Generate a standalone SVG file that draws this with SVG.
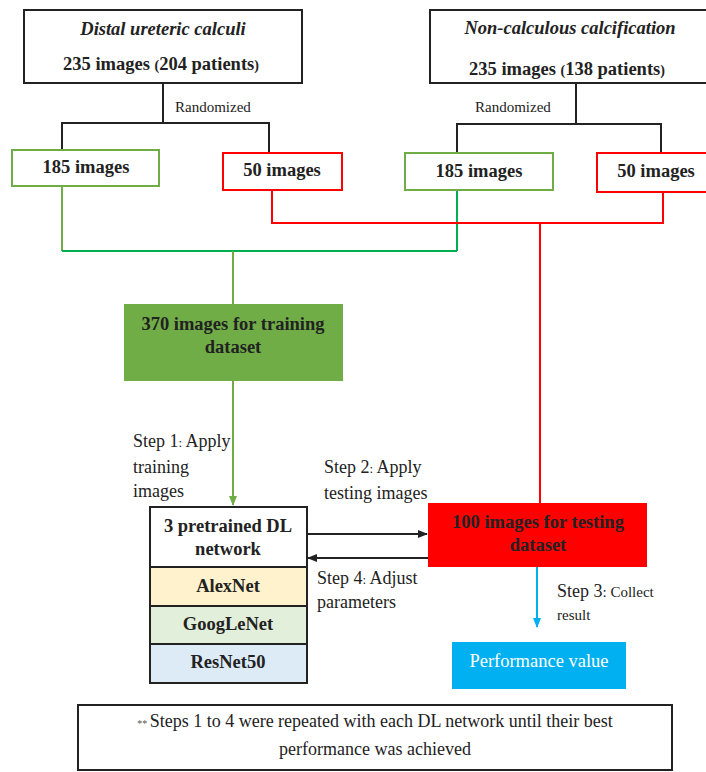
<svg xmlns="http://www.w3.org/2000/svg" width="706" height="772" viewBox="0 0 706 772" font-family="'Liberation Serif', 'DejaVu Serif', serif">
<style>
text{font-family:'Liberation Serif','DejaVu Serif',serif}
.b{font-weight:bold;font-size:18.5px;fill:#222;text-anchor:middle}
.bi{font-weight:bold;font-style:italic;font-size:18.5px;fill:#222;text-anchor:middle}
.r{font-size:18px;fill:#222}
.sm{font-size:13px}
.k{fill:none;stroke:#222;stroke-width:2}
.g{fill:none;stroke:#70AD47;stroke-width:2}
.gg{fill:none;stroke:#00B050;stroke-width:2}
.rd{fill:none;stroke:#FF0000;stroke-width:2}
</style>
<defs>
<marker id="ak" markerWidth="10" markerHeight="10" refX="9" refY="5" orient="auto" markerUnits="userSpaceOnUse"><path d="M0,1 L10,5 L0,9 z" fill="#222"/></marker>
<marker id="ag" markerWidth="10" markerHeight="10" refX="9" refY="5" orient="auto" markerUnits="userSpaceOnUse"><path d="M0,1 L10,5 L0,9 z" fill="#70AD47"/></marker>
<marker id="ab" markerWidth="10" markerHeight="10" refX="9" refY="5" orient="auto" markerUnits="userSpaceOnUse"><path d="M0,1 L10,5 L0,9 z" fill="#00B0F0"/></marker>
</defs>
<rect width="706" height="772" fill="#fff"/>
<g id="connectors">
<path class="k" d="M163,83 V123 M62,123 H269 M62,122 V150 M269,122 V153"/>
<path class="k" d="M576,83 V124 M457,124 H661 M457,123 V153 M661,123 V153"/>
<path class="g" d="M62,186 V251"/>
<path class="gg" d="M62,251 H457 M457,190 V251"/>
<path class="g" d="M233,251 V304"/>
<path class="rd" d="M272,190 V223 H663 V192 M540,223 V503"/>
<path class="g" d="M233,381 V505" marker-end="url(#ag)"/>
<path fill="none" stroke="#222" stroke-width="2" d="M307,534 H427" marker-end="url(#ak)"/>
<path fill="none" stroke="#222" stroke-width="2" d="M428,558 H308" marker-end="url(#ak)"/>
<path fill="none" stroke="#00B0F0" stroke-width="2" d="M537,567 V627" marker-end="url(#ab)"/>
</g>
<g id="n-distal">
<rect x="24" y="10" width="278" height="73" fill="#fff" stroke="#222" stroke-width="2"/>
<text class="bi" x="163" y="35">Distal ureteric calculi</text>
<text class="b" x="161" y="70">235 images <tspan style="font-size:14px">(</tspan>204 patients<tspan style="font-size:14px">)</tspan></text>
</g>
<g id="n-noncalc">
<rect x="430" y="10" width="280" height="73" fill="#fff" stroke="#222" stroke-width="2"/>
<text class="bi" x="570" y="34">Non-calculous calcification</text>
<text class="b" x="567" y="75">235 images <tspan style="font-size:14px">(</tspan>138 patients<tspan style="font-size:14px">)</tspan></text>
</g>
<text class="r" x="175" y="112" style="font-size:15px">Randomized</text>
<text class="r" x="475" y="112" style="font-size:15px">Randomized</text>
<g id="n-185a">
<rect x="12" y="150" width="147" height="36" fill="#fff" stroke="#70AD47" stroke-width="2"/>
<text class="b" x="86" y="173">185 images</text>
</g>
<g id="n-50a">
<rect x="223" y="153" width="119" height="37" fill="#fff" stroke="#FF0000" stroke-width="2"/>
<text class="b" x="282" y="176">50 images</text>
</g>
<g id="n-185b">
<rect x="405" y="153" width="148" height="37" fill="#fff" stroke="#70AD47" stroke-width="2"/>
<text class="b" x="479" y="177">185 images</text>
</g>
<g id="n-50b">
<rect x="597" y="153" width="115" height="39" fill="#fff" stroke="#FF0000" stroke-width="2"/>
<text class="b" x="656" y="177">50 images</text>
</g>
<g id="n-training">
<rect x="124" y="304" width="219" height="77" fill="#70AD47"/>
<text class="b" x="233" y="330">370 images for training</text>
<text class="b" x="233" y="353">dataset</text>
</g>
<g id="n-dl">
<rect x="150" y="507" width="157" height="60" fill="#fff" stroke="#222" stroke-width="2"/>
<rect x="150" y="567" width="157" height="39" fill="#FFF2CC" stroke="#222" stroke-width="2"/>
<rect x="150" y="606" width="157" height="38" fill="#E2EFDA" stroke="#222" stroke-width="2"/>
<rect x="150" y="644" width="157" height="39" fill="#DDEBF7" stroke="#222" stroke-width="2"/>
<text class="b" x="228" y="532">3 pretrained DL</text>
<text class="b" x="228" y="555">network</text>
<text class="b" x="228" y="592">AlexNet</text>
<text class="b" x="228" y="630">GoogLeNet</text>
<text class="b" x="228" y="668">ResNet50</text>
</g>
<g id="n-testing">
<rect x="428" y="503" width="219" height="64" fill="#FF0000"/>
<text class="b" x="538" y="528">100 images for testing</text>
<text class="b" x="538" y="551">dataset</text>
</g>
<g id="n-perf">
<rect x="452" y="642" width="174" height="47" fill="#00B0F0"/>
<text x="539" y="667" style="font-size:18.5px;fill:#fff;text-anchor:middle">Performance value</text>
</g>
<g id="labels">
<text class="r" x="133" y="447">Step 1<tspan class="sm">: </tspan>Apply</text>
<text class="r" x="133" y="473">training</text>
<text class="r" x="133" y="497">images</text>
<text class="r" x="324" y="473">Step 2<tspan class="sm">: </tspan>Apply</text>
<text class="r" x="324" y="499">testing images</text>
<text class="r" x="317" y="584">Step 4<tspan class="sm">: </tspan>Adjust</text>
<text class="r" x="317" y="608">parameters</text>
<text class="r" x="557" y="597">Step 3<tspan style="font-size:15px">: Collect</tspan></text>
<text class="r" x="557" y="620" style="font-size:15px">result</text>
</g>
<g id="n-note">
<rect x="78" y="705" width="594" height="65" fill="#fff" stroke="#222" stroke-width="2"/>
<text class="r" x="375" y="727" style="text-anchor:middle"><tspan style="font-size:10px;fill:#555">** </tspan>Steps 1 to 4 were repeated with each DL network until their best</text>
<text class="r" x="375" y="755" style="text-anchor:middle">performance was achieved</text>
</g>
</svg>
